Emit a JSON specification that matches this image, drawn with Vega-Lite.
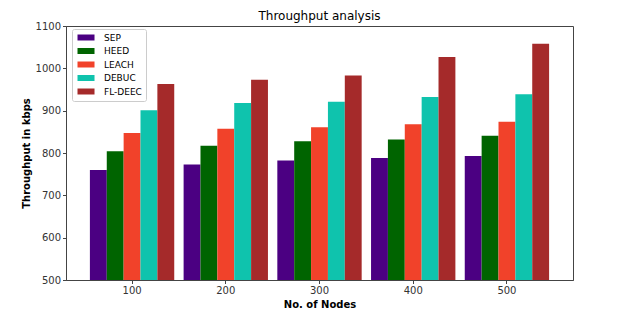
{
  "$schema": "https://vega.github.io/schema/vega-lite/v6.json",
  "autosize": "none",
  "width": 507,
  "height": 254,
  "padding": {"left": 66, "top": 26, "right": 64, "bottom": 49},
  "background": "white",
  "title": {"text": "Throughput analysis", "font": "DejaVu Sans", "fontSize": 12, "fontWeight": "normal", "color": "#000", "offset": -2},
  "config": {
    "view": {"stroke": "#444", "strokeWidth": 1},
    "axis": {"labelFont": "DejaVu Sans", "labelFontSize": 10, "labelColor": "#333", "titleFont": "DejaVu Sans", "titleFontSize": 10, "titleFontWeight": "bold", "titleColor": "#000", "domainColor": "#444", "tickColor": "#444", "tickSize": 3.5, "grid": false}
  },
  "data": {"values": [
    {"nodes": "100", "protocol": "SEP", "throughput": 760},
    {"nodes": "100", "protocol": "HEED", "throughput": 804},
    {"nodes": "100", "protocol": "LEACH", "throughput": 847},
    {"nodes": "100", "protocol": "DEBUC", "throughput": 901},
    {"nodes": "100", "protocol": "FL-DEEC", "throughput": 963},
    {"nodes": "200", "protocol": "SEP", "throughput": 773},
    {"nodes": "200", "protocol": "HEED", "throughput": 817},
    {"nodes": "200", "protocol": "LEACH", "throughput": 857},
    {"nodes": "200", "protocol": "DEBUC", "throughput": 918},
    {"nodes": "200", "protocol": "FL-DEEC", "throughput": 973},
    {"nodes": "300", "protocol": "SEP", "throughput": 782},
    {"nodes": "300", "protocol": "HEED", "throughput": 828},
    {"nodes": "300", "protocol": "LEACH", "throughput": 861},
    {"nodes": "300", "protocol": "DEBUC", "throughput": 921},
    {"nodes": "300", "protocol": "FL-DEEC", "throughput": 983},
    {"nodes": "400", "protocol": "SEP", "throughput": 788},
    {"nodes": "400", "protocol": "HEED", "throughput": 832},
    {"nodes": "400", "protocol": "LEACH", "throughput": 868},
    {"nodes": "400", "protocol": "DEBUC", "throughput": 932},
    {"nodes": "400", "protocol": "FL-DEEC", "throughput": 1027},
    {"nodes": "500", "protocol": "SEP", "throughput": 793},
    {"nodes": "500", "protocol": "HEED", "throughput": 841},
    {"nodes": "500", "protocol": "LEACH", "throughput": 874},
    {"nodes": "500", "protocol": "DEBUC", "throughput": 939},
    {"nodes": "500", "protocol": "FL-DEEC", "throughput": 1058}
  ]},
  "mark": {"type": "bar", "clip": true},
  "encoding": {
    "x": {"field": "nodes", "type": "nominal", "title": "No. of Nodes",
      "scale": {"paddingInner": 0.1, "paddingOuter": 0.255},
      "axis": {"labelAngle": 0, "titlePadding": 4}},
    "xOffset": {"field": "protocol", "type": "nominal", "sort": ["SEP", "HEED", "LEACH", "DEBUC", "FL-DEEC"], "scale": {"paddingInner": 0, "paddingOuter": 0}},
    "y": {"field": "throughput", "type": "quantitative", "title": "Throughput in kbps",
      "scale": {"domain": [500, 1100], "zero": false, "nice": false},
      "axis": {"values": [500, 600, 700, 800, 900, 1000, 1100], "format": "d", "titlePadding": 4}},
    "y2": {"datum": 500},
    "color": {"field": "protocol", "type": "nominal",
      "scale": {"domain": ["SEP", "HEED", "LEACH", "DEBUC", "FL-DEEC"], "range": ["#4b0082", "#006400", "#f1422a", "#0fc3ad", "#a52a2a"]},
      "legend": {"title": null, "orient": "none", "legendX": 6, "legendY": 3, "symbolType": "M-1,-1H4.67V1H-1Z", "symbolSize": 36, "symbolStrokeWidth": 0, "labelOffset": 19, "labelFont": "DejaVu Sans", "labelFontSize": 9, "labelColor": "#000", "rowPadding": 3.5, "padding": 4, "strokeColor": "#ccc", "fillColor": "white", "cornerRadius": 2}
    }
  }
}
